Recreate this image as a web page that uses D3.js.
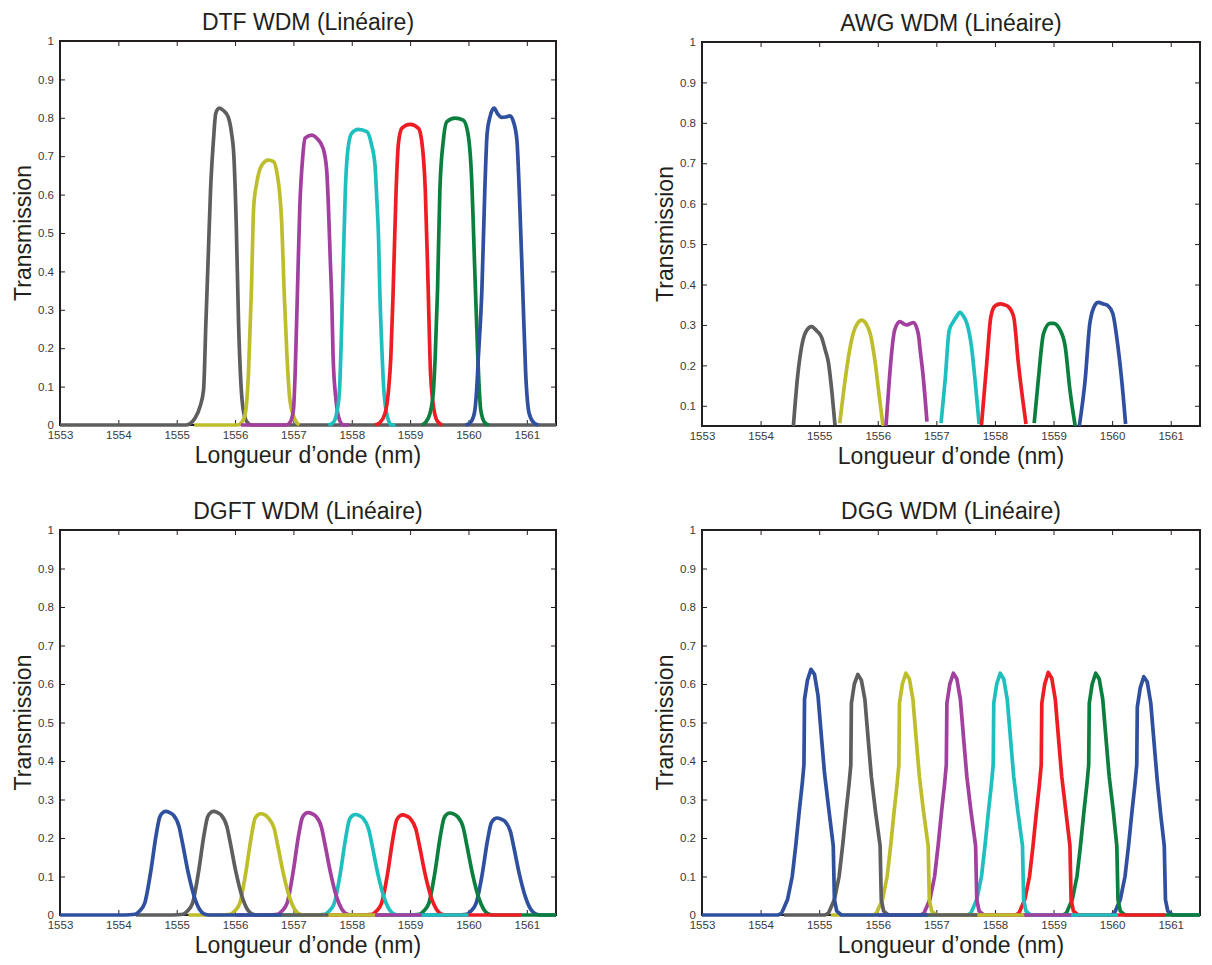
<!DOCTYPE html>
<html>
<head>
<meta charset="utf-8">
<script src="https://cdn.jsdelivr.net/npm/d3@7/dist/d3.min.js"></script>
<style>
  html, body { margin: 0; padding: 0; background: #fff; }
  svg { display: block; }
  text { font-family: "Liberation Sans", Arial, Helvetica, sans-serif; }
</style>
</head>
<body>
<svg id="chart" width="1212" height="965"></svg>
<script>
// ---------------- data ----------------
const xTicks = [1553, 1554, 1555, 1556, 1557, 1558, 1559, 1560, 1561];
const xTickLabels = ["1553", "1554", "1555", "1556", "1557", "1558", "1559", "1560", "1561"];
const yTicksFull = [0, 0.1, 0.2, 0.3, 0.4, 0.5, 0.6, 0.7, 0.8, 0.9, 1];
const yTickLabelsFull = ["0", "0.1", "0.2", "0.3", "0.4", "0.5", "0.6", "0.7", "0.8", "0.9", "1"];
const yTicksAwg = [0.1, 0.2, 0.3, 0.4, 0.5, 0.6, 0.7, 0.8, 0.9, 1];
const yTickLabelsAwg = ["0.1", "0.2", "0.3", "0.4", "0.5", "0.6", "0.7", "0.8", "0.9", "1"];

const titles = ["DTF WDM (Linéaire)", "AWG WDM (Linéaire)", "DGFT WDM (Linéaire)", "DGG WDM (Linéaire)"];
const xLabel = "Longueur d\u2019onde (nm)";
const yLabel = "Transmission";

const colors = {
  gray: "#5e5e5e", olive: "#bebe2c", purple: "#a23f9f", cyan: "#1fbebf",
  red: "#ee1d24", green: "#0b7f3d", blue: "#2f4f9f"
};

// ---- DTF (thin film) ----
const dtfGray = [[1553,0],[1555.15,0],[1555.23,0.004],[1555.31,0.017],[1555.40,0.048],[1555.46,0.091],[1555.50,0.265],[1555.54,0.438],[1555.58,0.612],[1555.63,0.742],[1555.67,0.812],[1555.73,0.825],[1555.80,0.819],[1555.88,0.803],[1555.94,0.76],[1555.98,0.699],[1556.02,0.525],[1556.06,0.265],[1556.10,0.109],[1556.14,0.039],[1556.20,0.009],[1556.28,0],[1561.5,0]];
const dtfOlive = [[1555.3,0],[1556.04,0],[1556.11,0.006],[1556.17,0.026],[1556.23,0.135],[1556.28,0.352],[1556.32,0.569],[1556.37,0.629],[1556.46,0.677],[1556.57,0.69],[1556.66,0.686],[1556.72,0.655],[1556.77,0.595],[1556.80,0.525],[1556.84,0.352],[1556.89,0.178],[1556.94,0.065],[1557.03,0.013],[1557.10,0]];
const dtfPurple = [[1556.1,0],[1556.88,0],[1556.94,0.006],[1557.00,0.039],[1557.03,0.135],[1557.07,0.352],[1557.11,0.569],[1557.16,0.699],[1557.20,0.747],[1557.31,0.755],[1557.40,0.747],[1557.51,0.72],[1557.57,0.664],[1557.60,0.569],[1557.63,0.438],[1557.66,0.308],[1557.68,0.178],[1557.73,0.065],[1557.79,0.013],[1557.86,0],[1557.95,0]];
const dtfCyan = [[1557.6,0],[1557.68,0.006],[1557.74,0.03],[1557.79,0.091],[1557.82,0.221],[1557.85,0.395],[1557.89,0.612],[1557.94,0.725],[1558.00,0.76],[1558.11,0.77],[1558.26,0.764],[1558.34,0.729],[1558.40,0.673],[1558.43,0.586],[1558.46,0.482],[1558.48,0.352],[1558.51,0.221],[1558.55,0.091],[1558.61,0.022],[1558.68,0],[1558.75,0]];
const dtfRed = [[1558.4,0],[1558.48,0.006],[1558.57,0.03],[1558.63,0.091],[1558.67,0.178],[1558.71,0.352],[1558.76,0.612],[1558.80,0.734],[1558.86,0.773],[1559.00,0.783],[1559.14,0.773],[1559.20,0.738],[1559.26,0.612],[1559.31,0.352],[1559.35,0.135],[1559.41,0.039],[1559.47,0.009],[1559.55,0]];
const dtfGreen = [[1559.2,0],[1559.26,0.006],[1559.34,0.03],[1559.40,0.091],[1559.43,0.178],[1559.47,0.352],[1559.51,0.612],[1559.57,0.742],[1559.63,0.79],[1559.77,0.799],[1559.91,0.794],[1559.99,0.76],[1560.05,0.655],[1560.11,0.395],[1560.16,0.178],[1560.21,0.039],[1560.28,0.006],[1560.35,0]];
const dtfBlue = [[1559.95,0],[1560.03,0.006],[1560.10,0.03],[1560.14,0.091],[1560.17,0.178],[1560.23,0.352],[1560.28,0.612],[1560.32,0.76],[1560.37,0.803],[1560.44,0.825],[1560.50,0.81],[1560.57,0.801],[1560.64,0.802],[1560.71,0.805],[1560.77,0.79],[1560.83,0.742],[1560.87,0.612],[1560.93,0.352],[1560.98,0.135],[1561.04,0.03],[1561.12,0.006],[1561.2,0]];

// ---- AWG ----
const awgGray = [[1554.56,0.05],[1554.63,0.17],[1554.70,0.246],[1554.78,0.285],[1554.87,0.296],[1554.96,0.285],[1555.04,0.27],[1555.10,0.24],[1555.16,0.205],[1555.22,0.13],[1555.27,0.052]];
const awgOlive = [[1555.35,0.057],[1555.43,0.15],[1555.50,0.221],[1555.58,0.279],[1555.65,0.303],[1555.73,0.312],[1555.80,0.303],[1555.87,0.279],[1555.95,0.213],[1556.02,0.13],[1556.09,0.05]];
const awgPurple = [[1556.14,0.05],[1556.18,0.13],[1556.22,0.205],[1556.29,0.288],[1556.38,0.308],[1556.44,0.303],[1556.49,0.30],[1556.55,0.303],[1556.61,0.306],[1556.69,0.279],[1556.73,0.23],[1556.77,0.18],[1556.84,0.061]];
const awgCyan = [[1557.08,0.057],[1557.15,0.164],[1557.22,0.287],[1557.29,0.308],[1557.35,0.322],[1557.40,0.331],[1557.46,0.322],[1557.52,0.304],[1557.60,0.246],[1557.66,0.164],[1557.73,0.055]];
const awgRed = [[1557.77,0.052],[1557.86,0.205],[1557.93,0.32],[1558.00,0.347],[1558.09,0.352],[1558.16,0.35],[1558.23,0.345],[1558.32,0.32],[1558.40,0.205],[1558.47,0.12],[1558.53,0.055]];
const awgGreen = [[1558.67,0.057],[1558.74,0.164],[1558.83,0.279],[1558.94,0.304],[1559.00,0.304],[1559.11,0.288],[1559.20,0.246],[1559.28,0.139],[1559.37,0.05]];
const awgBlue = [[1559.44,0.05],[1559.54,0.164],[1559.62,0.304],[1559.71,0.35],[1559.76,0.356],[1559.85,0.352],[1559.93,0.347],[1560.01,0.329],[1560.10,0.246],[1560.19,0.123],[1560.23,0.055]];

// ---- DGFT ----
const dgftBlue1 = [[1553,0],[1554.11,0],[1554.29,0.002],[1554.36,0.01],[1554.45,0.03],[1554.55,0.108],[1554.65,0.21],[1554.71,0.255],[1554.77,0.267],[1554.81,0.269],[1554.88,0.266],[1554.94,0.26],[1555.04,0.23],[1555.10,0.186],[1555.20,0.108],[1555.30,0.048],[1555.39,0.015],[1555.47,0.003],[1555.56,0],[1556.8,0]];
const dgftGray = [[1554.3,0],[1554.93,0],[1555.11,0.002],[1555.18,0.01],[1555.27,0.03],[1555.37,0.108],[1555.47,0.21],[1555.53,0.255],[1555.59,0.267],[1555.63,0.269],[1555.70,0.266],[1555.76,0.26],[1555.86,0.23],[1555.92,0.186],[1556.02,0.108],[1556.12,0.048],[1556.21,0.015],[1556.29,0.003],[1556.38,0],[1557.6,0]];
const dgftOlive = [[1555.2,0],[1555.74,0],[1555.92,0.002],[1555.99,0.01],[1556.08,0.03],[1556.18,0.106],[1556.28,0.205],[1556.34,0.25],[1556.40,0.261],[1556.44,0.263],[1556.51,0.26],[1556.57,0.252],[1556.67,0.225],[1556.73,0.182],[1556.83,0.106],[1556.93,0.047],[1557.02,0.015],[1557.10,0.003],[1557.19,0],[1558.4,0]];
const dgftPurple = [[1556.0,0],[1556.55,0],[1556.73,0.002],[1556.80,0.01],[1556.89,0.03],[1556.99,0.107],[1557.09,0.208],[1557.15,0.252],[1557.21,0.264],[1557.25,0.266],[1557.32,0.263],[1557.38,0.257],[1557.48,0.228],[1557.54,0.184],[1557.64,0.107],[1557.74,0.047],[1557.83,0.015],[1557.91,0.003],[1558.0,0],[1559.2,0]];
const dgftCyan = [[1556.8,0],[1557.36,0],[1557.54,0.002],[1557.61,0.01],[1557.70,0.03],[1557.80,0.105],[1557.90,0.204],[1557.96,0.248],[1558.02,0.259],[1558.06,0.261],[1558.13,0.258],[1558.19,0.252],[1558.29,0.223],[1558.35,0.18],[1558.45,0.105],[1558.55,0.047],[1558.64,0.015],[1558.72,0.003],[1558.81,0],[1560.0,0]];
const dgftRed = [[1557.6,0],[1558.17,0],[1558.35,0.002],[1558.42,0.01],[1558.51,0.03],[1558.61,0.104],[1558.71,0.203],[1558.77,0.247],[1558.83,0.258],[1558.87,0.26],[1558.94,0.257],[1559.00,0.251],[1559.10,0.222],[1559.16,0.18],[1559.26,0.104],[1559.36,0.046],[1559.45,0.015],[1559.53,0.003],[1559.62,0],[1560.9,0]];
const dgftGreen = [[1558.4,0],[1558.98,0],[1559.16,0.002],[1559.23,0.01],[1559.32,0.03],[1559.42,0.106],[1559.52,0.207],[1559.58,0.251],[1559.64,0.263],[1559.68,0.265],[1559.75,0.262],[1559.81,0.256],[1559.91,0.227],[1559.97,0.183],[1560.07,0.106],[1560.17,0.047],[1560.26,0.015],[1560.34,0.003],[1560.43,0],[1561.5,0]];
const dgftBlue8 = [[1559.2,0],[1559.79,0],[1559.97,0.002],[1560.04,0.01],[1560.13,0.03],[1560.23,0.101],[1560.33,0.197],[1560.39,0.239],[1560.45,0.25],[1560.49,0.252],[1560.56,0.249],[1560.62,0.244],[1560.72,0.216],[1560.78,0.174],[1560.88,0.101],[1560.98,0.045],[1561.07,0.014],[1561.15,0.003],[1561.24,0],[1561.5,0]];

// ---- DGG ----
const dggBlue1 = [[1553,0],[1554.30,0],[1554.36,0.005],[1554.46,0.04],[1554.54,0.10],[1554.60,0.18],[1554.66,0.27],[1554.71,0.34],[1554.74,0.39],[1554.75,0.56],[1554.80,0.61],[1554.86,0.638],[1554.92,0.625],[1554.98,0.57],[1555.04,0.46],[1555.09,0.37],[1555.16,0.28],[1555.24,0.18],[1555.26,0.04],[1555.30,0.01],[1555.38,0],[1556.85,0]];
const dggGray = [[1554.4,0],[1555.10,0],[1555.16,0.005],[1555.26,0.04],[1555.34,0.10],[1555.40,0.18],[1555.46,0.27],[1555.51,0.34],[1555.54,0.39],[1555.55,0.55],[1555.60,0.60],[1555.66,0.625],[1555.72,0.61],[1555.78,0.56],[1555.84,0.45],[1555.89,0.36],[1555.96,0.27],[1556.04,0.18],[1556.06,0.04],[1556.10,0.01],[1556.18,0],[1557.7,0]];
const dggOlive = [[1555.2,0],[1555.92,0],[1555.98,0.005],[1556.08,0.04],[1556.16,0.10],[1556.22,0.18],[1556.28,0.27],[1556.33,0.34],[1556.36,0.39],[1556.37,0.55],[1556.42,0.60],[1556.48,0.628],[1556.54,0.613],[1556.60,0.56],[1556.66,0.45],[1556.71,0.36],[1556.78,0.27],[1556.86,0.18],[1556.88,0.04],[1556.92,0.01],[1557.00,0],[1558.5,0]];
const dggPurple = [[1556.0,0],[1556.73,0],[1556.79,0.005],[1556.89,0.04],[1556.97,0.10],[1557.03,0.18],[1557.09,0.27],[1557.14,0.34],[1557.17,0.39],[1557.18,0.55],[1557.23,0.60],[1557.29,0.628],[1557.35,0.613],[1557.41,0.56],[1557.47,0.45],[1557.52,0.36],[1557.59,0.27],[1557.67,0.18],[1557.69,0.04],[1557.73,0.01],[1557.81,0],[1559.3,0]];
const dggCyan = [[1556.8,0],[1557.53,0],[1557.59,0.005],[1557.69,0.04],[1557.77,0.10],[1557.83,0.18],[1557.89,0.27],[1557.94,0.34],[1557.97,0.39],[1557.98,0.55],[1558.03,0.60],[1558.09,0.628],[1558.15,0.613],[1558.21,0.56],[1558.27,0.45],[1558.32,0.36],[1558.39,0.27],[1558.47,0.18],[1558.49,0.04],[1558.53,0.01],[1558.61,0],[1560.1,0]];
const dggRed = [[1557.6,0],[1558.35,0],[1558.41,0.005],[1558.51,0.04],[1558.59,0.10],[1558.65,0.18],[1558.71,0.27],[1558.76,0.34],[1558.79,0.39],[1558.80,0.55],[1558.85,0.60],[1558.91,0.63],[1558.97,0.615],[1559.03,0.56],[1559.09,0.45],[1559.14,0.36],[1559.21,0.27],[1559.28,0.18],[1559.30,0.04],[1559.34,0.01],[1559.42,0],[1560.9,0]];
const dggGreen = [[1558.4,0],[1559.16,0],[1559.22,0.005],[1559.32,0.04],[1559.40,0.10],[1559.46,0.18],[1559.52,0.27],[1559.57,0.34],[1559.60,0.39],[1559.61,0.55],[1559.66,0.60],[1559.72,0.628],[1559.78,0.613],[1559.84,0.56],[1559.90,0.45],[1559.95,0.36],[1560.02,0.27],[1560.08,0.18],[1560.10,0.04],[1560.14,0.01],[1560.22,0],[1561.5,0]];
const dggBlue8 = [[1559.2,0],[1559.98,0],[1560.04,0.005],[1560.14,0.04],[1560.22,0.10],[1560.28,0.18],[1560.34,0.27],[1560.39,0.34],[1560.42,0.39],[1560.43,0.54],[1560.48,0.59],[1560.54,0.619],[1560.60,0.605],[1560.66,0.55],[1560.72,0.44],[1560.77,0.35],[1560.83,0.26],[1560.89,0.18],[1560.91,0.04],[1560.95,0.01],[1561.03,0],[1561.5,0]];

// ---------------- layout ----------------
const panels = [
  { title: titles[0], left: 60, right: 556, top: 41, bottom: 425, yDomain: [0, 1],
    yTicks: yTicksFull, yLabels: yTickLabelsFull, smooth: true, clip: false,
    series: [[dtfGray, "gray"], [dtfOlive, "olive"], [dtfPurple, "purple"], [dtfCyan, "cyan"], [dtfRed, "red"], [dtfGreen, "green"], [dtfBlue, "blue"]] },
  { title: titles[1], left: 702, right: 1200, top: 42, bottom: 426, yDomain: [0.05, 1],
    yTicks: yTicksAwg, yLabels: yTickLabelsAwg, smooth: true, clip: true,
    series: [[awgGray, "gray"], [awgOlive, "olive"], [awgPurple, "purple"], [awgCyan, "cyan"], [awgRed, "red"], [awgGreen, "green"], [awgBlue, "blue"]] },
  { title: titles[2], left: 60, right: 556, top: 530, bottom: 915, yDomain: [0, 1],
    yTicks: yTicksFull, yLabels: yTickLabelsFull, smooth: true, clip: false,
    series: [[dgftBlue8, "blue"], [dgftGreen, "green"], [dgftRed, "red"], [dgftCyan, "cyan"], [dgftPurple, "purple"], [dgftOlive, "olive"], [dgftGray, "gray"], [dgftBlue1, "blue"]] },
  { title: titles[3], left: 702, right: 1200, top: 530, bottom: 915, yDomain: [0, 1],
    yTicks: yTicksFull, yLabels: yTickLabelsFull, smooth: false, clip: false,
    series: [[dggBlue8, "blue"], [dggGreen, "green"], [dggRed, "red"], [dggCyan, "cyan"], [dggPurple, "purple"], [dggOlive, "olive"], [dggGray, "gray"], [dggBlue1, "blue"]] }
];

const svg = d3.select("#chart");
svg.append("rect").attr("width", 1212).attr("height", 965).attr("fill", "#fff");
const ink = "#231f20";

panels.forEach((p, i) => {
  const x = d3.scaleLinear().domain([1553, 1561.5]).range([p.left, p.right]);
  const y = d3.scaleLinear().domain(p.yDomain).range([p.bottom, p.top]);
  const g = svg.append("g");

  if (p.clip) {
    svg.append("defs").append("clipPath").attr("id", "clip" + i)
      .append("rect").attr("x", p.left).attr("y", p.top)
      .attr("width", p.right - p.left).attr("height", p.bottom - p.top);
  }
  const line = d3.line().x(d => x(d[0])).y(d => y(d[1]))
    .curve(p.smooth ? d3.curveMonotoneX : d3.curveLinear);

  const fmtX = (d) => xTickLabels[xTicks.indexOf(d)];
  const fmtY = (d) => p.yLabels[p.yTicks.indexOf(d)];

  const axB = g.append("g").attr("transform", `translate(0,${p.bottom})`)
    .call(d3.axisBottom(x).tickValues(xTicks).tickFormat(fmtX).tickSizeInner(-5).tickSizeOuter(0).tickPadding(6));
  const axT = g.append("g").attr("transform", `translate(0,${p.top})`)
    .call(d3.axisTop(x).tickValues(xTicks).tickFormat("").tickSizeInner(-5).tickSizeOuter(0));
  const axL = g.append("g").attr("transform", `translate(${p.left},0)`)
    .call(d3.axisLeft(y).tickValues(p.yTicks).tickFormat(fmtY).tickSizeInner(-5).tickSizeOuter(0).tickPadding(6));
  const axR = g.append("g").attr("transform", `translate(${p.right},0)`)
    .call(d3.axisRight(y).tickValues(p.yTicks).tickFormat("").tickSizeInner(-5).tickSizeOuter(0));
  [axB, axT, axL, axR].forEach(a => {
    a.select(".domain").remove();
    a.selectAll(".tick line").attr("stroke", ink).attr("stroke-width", 1);
    a.selectAll(".tick text").attr("fill", "#3a3a3a").attr("font-size", 11.5)
      .attr("font-family", "'Liberation Sans', Arial, sans-serif");
  });

  g.append("rect").attr("x", p.left).attr("y", p.top)
    .attr("width", p.right - p.left).attr("height", p.bottom - p.top)
    .attr("fill", "none").attr("stroke", ink).attr("stroke-width", 2);

  const cg = g.append("g");
  if (p.clip) cg.attr("clip-path", `url(#clip${i})`);
  p.series.forEach(([data, c]) => {
    cg.append("path").datum(data).attr("d", line)
      .attr("fill", "none").attr("stroke", colors[c]).attr("stroke-width", 3.7)
      .attr("stroke-linejoin", "round").attr("stroke-linecap", "butt");
  });

  const cx = (p.left + p.right) / 2;
  g.append("text").attr("x", cx).attr("y", p.top - 11).attr("text-anchor", "middle")
    .attr("font-size", 23).attr("fill", ink).text(p.title);
  g.append("text").attr("x", cx).attr("y", p.bottom + 38).attr("text-anchor", "middle")
    .attr("font-size", 23).attr("fill", ink).text(xLabel);
  g.append("text").attr("transform", `translate(${p.left - 29},${(p.top + p.bottom) / 2}) rotate(-90)`)
    .attr("text-anchor", "middle").attr("font-size", 23).attr("fill", ink).text(yLabel);
});
</script>
</body>
</html>
